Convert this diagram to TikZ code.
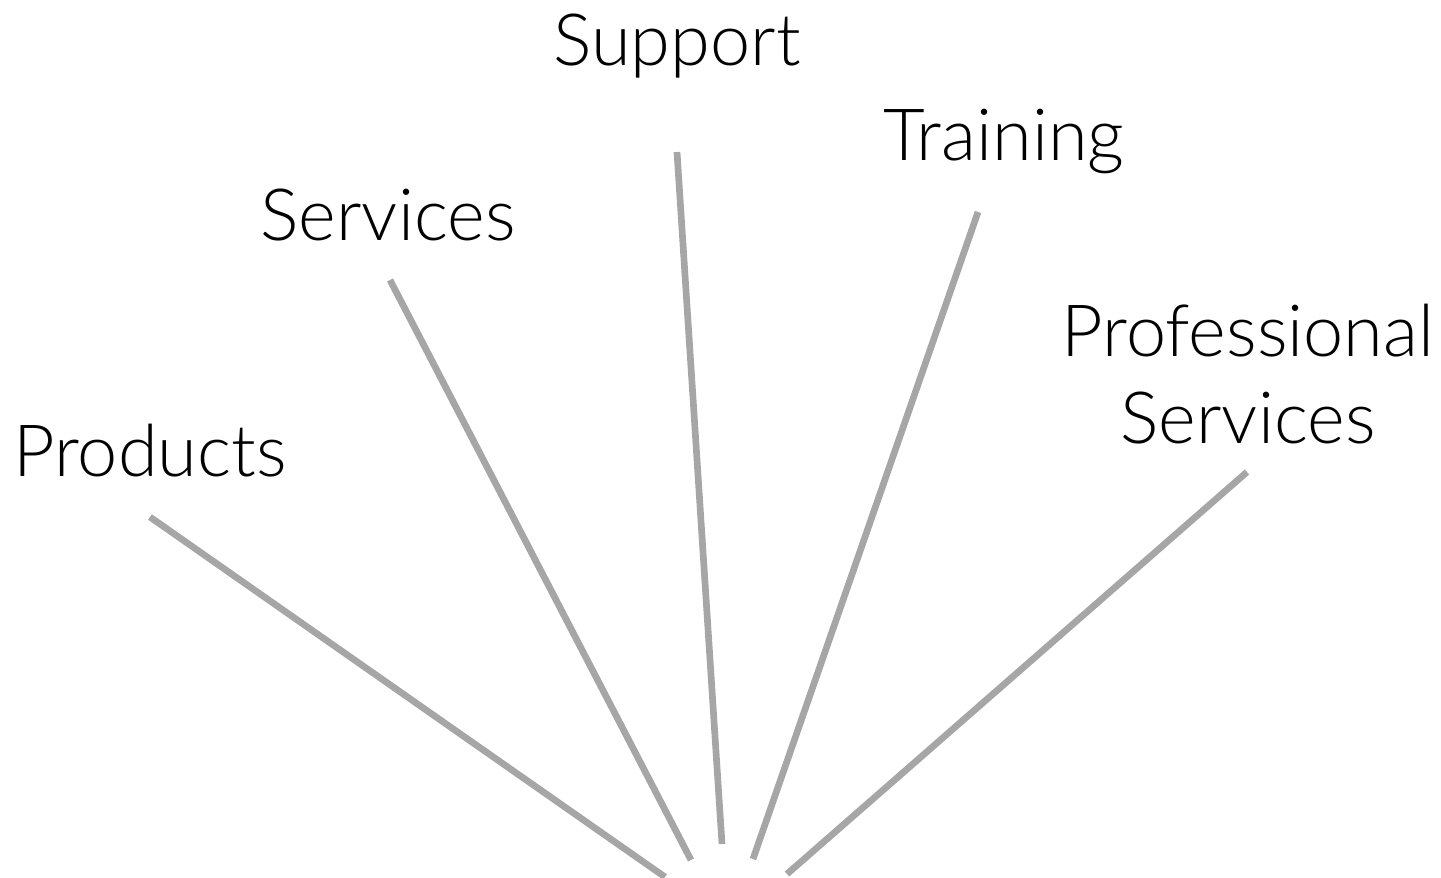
\documentclass[tikz,border=0pt]{standalone}
\usepackage{fontspec}
\setmainfont{Lato}[UprightFont={* Light}]
\tikzset{
  label/.style={anchor=base,inner sep=0pt,align=center,font=\fontsize{41}{49}\selectfont},
  spoke/.style={draw=black!35,line width=3.8pt}
}
\begin{document}
\begin{tikzpicture}[x=0.02cm,y=-0.02cm]
      \useasboundingbox (0,0) rectangle (1441,877);
      \draw
        (150,476) node[label] (products){Products}
        (388,240) node[label] (services){Services}
        (677,65) node[label] (support){Support}
        (1004,160) node[label] (training){Training}
        (1248,443) node[label] (profserv){Professional\\Services};
      \coordinate (p0) at (150,517);
      \coordinate (p1) at (665,877);
      \coordinate (s0) at (390,280);
      \coordinate (s1) at (691,860);
      \coordinate (u0) at (677,152);
      \coordinate (u1) at (722,844);
      \coordinate (t0) at (978,212);
      \coordinate (t1) at (753,859);
      \coordinate (r0) at (1247,472);
      \coordinate (r1) at (787,874);
      \begin{scope}[spoke]
        \draw (p0) to (p1);
        \draw (s0) to (s1);
        \draw (u0) to (u1);
        \draw (t0) to (t1);
        \draw (r0) to (r1);
      \end{scope}
    \end{tikzpicture}
\end{document}
